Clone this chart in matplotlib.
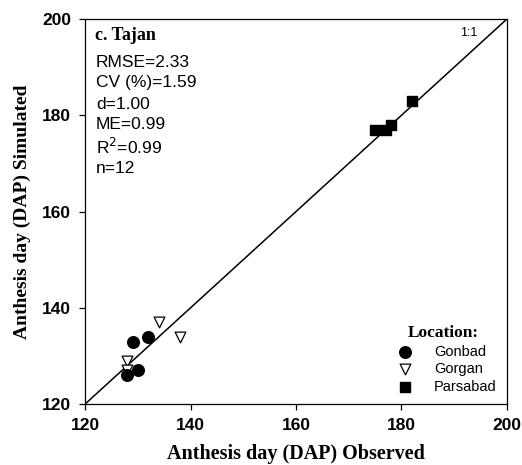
import numpy as np
import matplotlib.pyplot as plt

# observed vs simulated anthesis day (DAP)
gonbad_obs = [129, 132, 130, 128]
gonbad_sim = [133, 134, 127, 126]
gorgan_obs = [134, 138, 128, 128]
gorgan_sim = [137, 134, 129, 127]
parsabad_obs = [175, 177, 178, 182]
parsabad_sim = [177, 177, 178, 183]

stats = ["RMSE=2.33", "CV (%)=1.59", "d=1.00", "ME=0.99", "R$^2$=0.99", "n=12"]
ticks = [120, 140, 160, 180, 200]

sans = "Liberation Sans"
serif = "Liberation Serif"

fig = plt.figure(figsize=(5.22, 4.65), dpi=100)
ax = fig.add_axes([0.163, 0.131, 0.808, 0.828])

ax.plot([120, 200], [120, 200], color="black", lw=1.1, zorder=1)
ax.scatter(gonbad_obs, gonbad_sim, marker="o", s=70, color="black", label="Gonbad", zorder=3)
ax.scatter(gorgan_obs, gorgan_sim, marker="v", s=60, facecolor="white", edgecolor="black",
           linewidths=0.9, label="Gorgan", zorder=2)
ax.scatter(parsabad_obs, parsabad_sim, marker="s", s=50, color="black", label="Parsabad", zorder=3)

ax.set_xlim(120, 200)
ax.set_ylim(120, 200)
ax.set_xticks(ticks)
ax.set_yticks(ticks)
ax.tick_params(direction="out", length=4, width=0.9, pad=6)
for lab in ax.get_xticklabels() + ax.get_yticklabels():
    lab.set_fontfamily(sans)
    lab.set_fontweight("bold")
    lab.set_fontsize(12.5)
for sp in ax.spines.values():
    sp.set_linewidth(0.9)

ax.set_xlabel("Anthesis day (DAP) Observed", fontfamily=serif, fontweight="bold",
              fontsize=14.5, labelpad=8)
ax.set_ylabel("Anthesis day (DAP) Simulated", fontfamily=serif, fontweight="bold",
              fontsize=14, labelpad=8)

ax.text(0.024, 0.958, "c. Tajan", transform=ax.transAxes, fontfamily=serif,
        fontweight="bold", fontsize=13, va="center")
ys = [0.888, 0.834, 0.779, 0.725, 0.668, 0.613]
for s, y in zip(stats, ys):
    ax.text(0.026, y, s, transform=ax.transAxes, fontfamily=sans, fontsize=12.5, va="center")
ax.text(0.89, 0.963, "1:1", transform=ax.transAxes, fontfamily=sans, fontsize=9, va="center")

leg = ax.legend(loc="lower right", frameon=False, title="Location:",
                handletextpad=1.0, labelspacing=0.25, borderaxespad=0.3,
                prop={"family": sans, "size": 10.5})
leg.get_title().set_fontfamily(serif)
leg.get_title().set_fontweight("bold")
leg.get_title().set_fontsize(12.5)

fig.savefig("out.png", dpi=100)
